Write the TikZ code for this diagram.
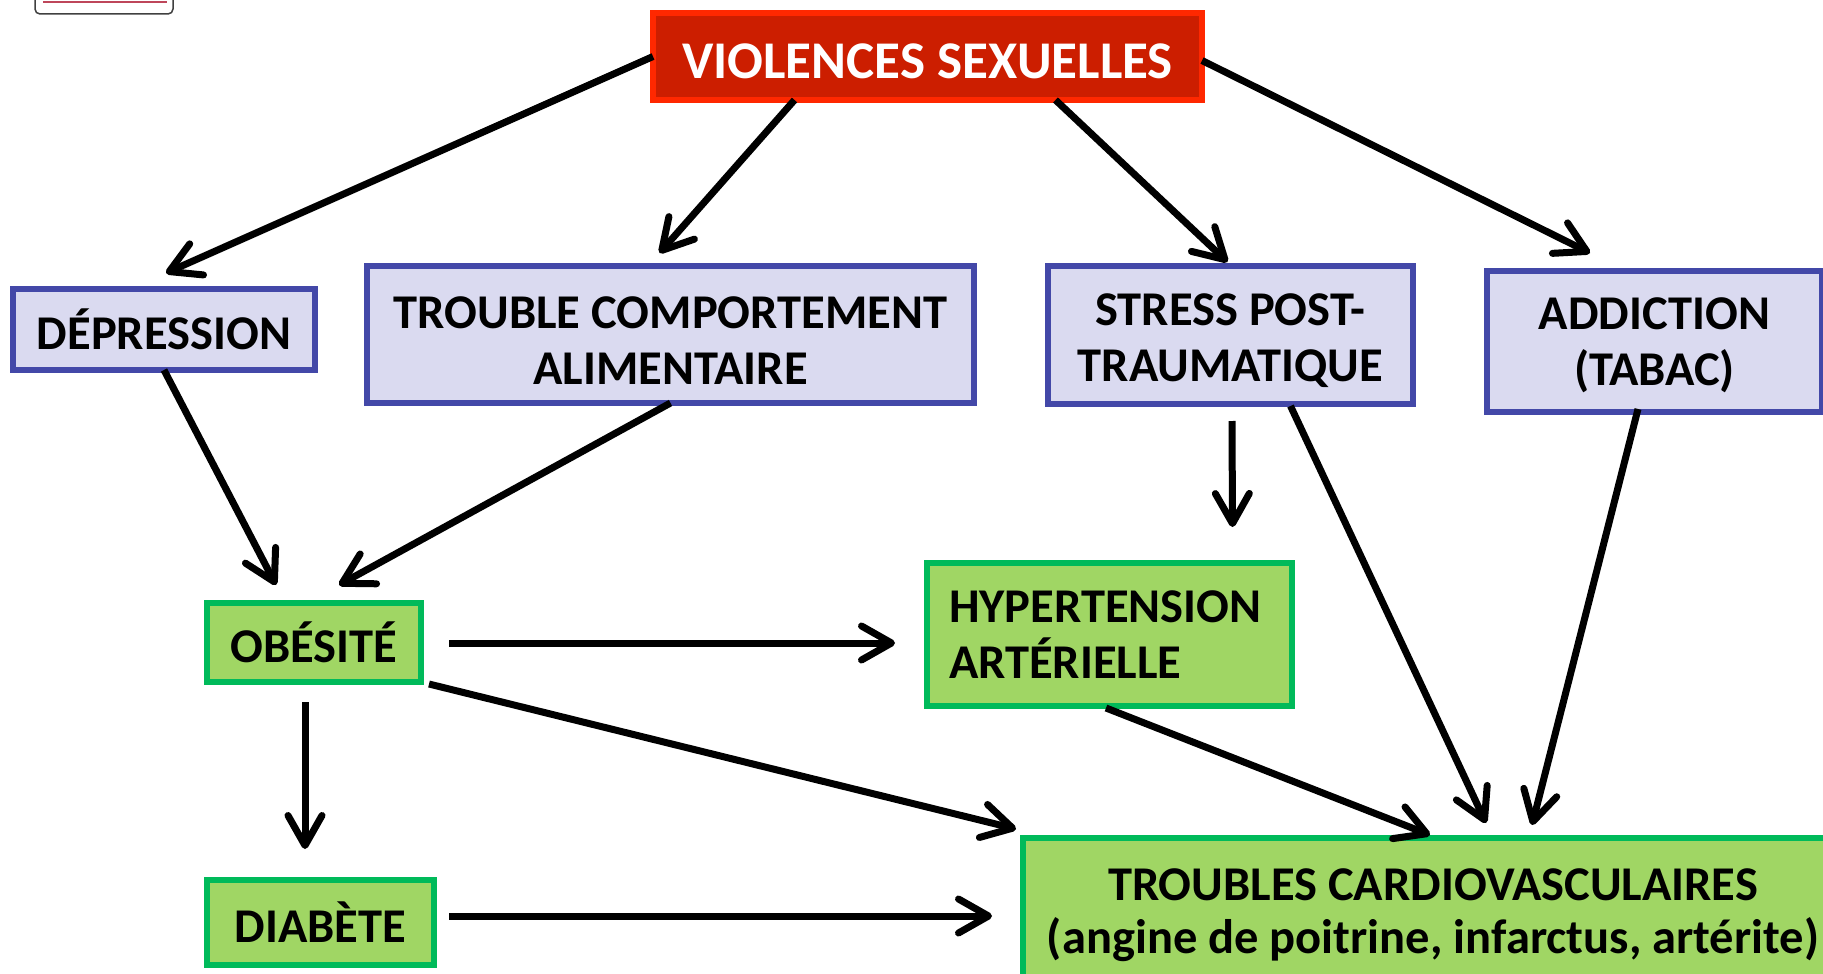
\documentclass[tikz,border=0pt]{standalone}
\usepackage{fontspec}
\setmainfont{Carlito}
\usetikzlibrary{arrows.meta,calc}
\definecolor{redfill}{RGB}{204,30,0}
\definecolor{redline}{RGB}{255,40,0}
\definecolor{bluefill}{RGB}{218,218,240}
\definecolor{blueline}{RGB}{67,72,168}
\definecolor{greenfill}{RGB}{160,214,100}
\definecolor{greenline}{RGB}{0,186,90}
\newcommand\topstrut[1]{\rule{0pt}{#1}}
\tikzset{
  box/.style={rectangle, inner sep=0pt, outer sep=0pt, align=center,
    font=\fontsize{48.5}{56}\selectfont\bfseries},
  bluebox/.style={box, fill=bluefill, draw=blueline, line width=5.5pt},
  greenbox/.style={box, fill=greenfill, draw=greenline, line width=6pt},
  redbox/.style={box, fill=redfill, draw=redline, line width=6pt, text=white,
    font=\fontsize{53}{62}\selectfont\bfseries},
  arr/.style={line width=7pt, -{Straight Barb[length=30pt,width=34pt,round]}},
}
\begin{document}
\begin{tikzpicture}[x=1pt,y=-1pt]
\useasboundingbox (0,0) rectangle (1823,974);
\clip (0,0) rectangle (1823,974);
% partial box at top left
\draw[rounded corners=5pt, draw=black!75, line width=1.5pt, fill=white] (35,-20) rectangle (173,14);
\draw[line width=2pt, color={rgb,255:red,190;green,70;blue,90}] (43,2) -- (167,2);

\node[redbox, minimum width=549, minimum height=87] (viol) at (927.5,56.5) {\topstrut{44pt}VIOLENCES SEXUELLES};
\node[bluebox, minimum width=302, minimum height=81] (dep) at (164,329.5) {DÉPRESSION};
\node[bluebox, minimum width=607, minimum height=137] (tca) at (670.5,334.5) {\topstrut{44pt}TROUBLE COMPORTEMENT\\ALIMENTAIRE};
\node[bluebox, minimum width=365, minimum height=138] (ptsd) at (1230.5,335) {\topstrut{44pt}STRESS POST-\\TRAUMATIQUE};
\node[bluebox, minimum width=335, minimum height=141] (add) at (1654.5,341.5) {\topstrut{39pt}ADDICTION\\(TABAC)};
\node[greenbox, minimum width=214, minimum height=79] (obe) at (314,642.5) {OBÉSITÉ};
\node[greenbox, minimum width=365, minimum height=143, align=left, text width=321, inner xsep=22pt] (hta) at (1109.5,634.5) {HYPERTENSION\\ARTÉRIELLE};
\node[greenbox, minimum width=227, minimum height=85] (dia) at (320.5,922.5) {DIABÈTE};
\node[greenbox, minimum width=820, minimum height=147, font=\fontsize{48.5}{53}\selectfont\bfseries] (tcv) at (1433,911.5) {\topstrut{39pt}TROUBLES CARDIOVASCULAIRES\\(angine de poitrine, infarctus, artérite)};

% connectors
\draw[arr] (viol.west) -- ($(dep.north)+(2,-16)$);
\draw[arr] ($(viol.south)+(-133,0)$) -- ($(tca.north)+(-11,-13)$);
\draw[arr] ($(viol.south)+(128,0)$) -- ($(ptsd.north)+(-3,-4)$);
\draw[arr] ($(viol.east)+(0,4)$) -- ($(add.north)+(-64.5,-18)$);
\draw[arr] (dep.south) -- ($(obe.north)+(-38,-18)$);
\draw[arr] (tca.south) -- ($(obe.north)+(25,-18)$);
\draw[arr] ($(ptsd.south)+(1.5,17)$) -- ($(hta.north)+(123,-36)$);
\draw[arr] ($(ptsd.south)+(60,2)$) -- ($(tcv.north)+(53,-15)$);
\draw[arr] ($(add.south)+(-16.5,-3)$) -- ($(tcv.north)+(99,-13)$);
\draw[arr] ($(obe.east)+(28,0.5)$) -- ($(hta.west)+(-32,8.5)$);
\draw[arr] ($(obe.south east)+(8,2)$) -- ($(tcv.north west)+(-7,-9)$);
\draw[arr] ($(obe.south)+(-9,20)$) -- ($(dia.north)+(-15.5,-31)$);
\draw[arr] ($(hta.south)+(-3.5,2)$) -- ($(tcv.north)+(-3,-3)$);
\draw[arr] ($(dia.east)+(15,-6.5)$) -- ($(tcv.west)+(-31,4.5)$);
\end{tikzpicture}
\end{document}
